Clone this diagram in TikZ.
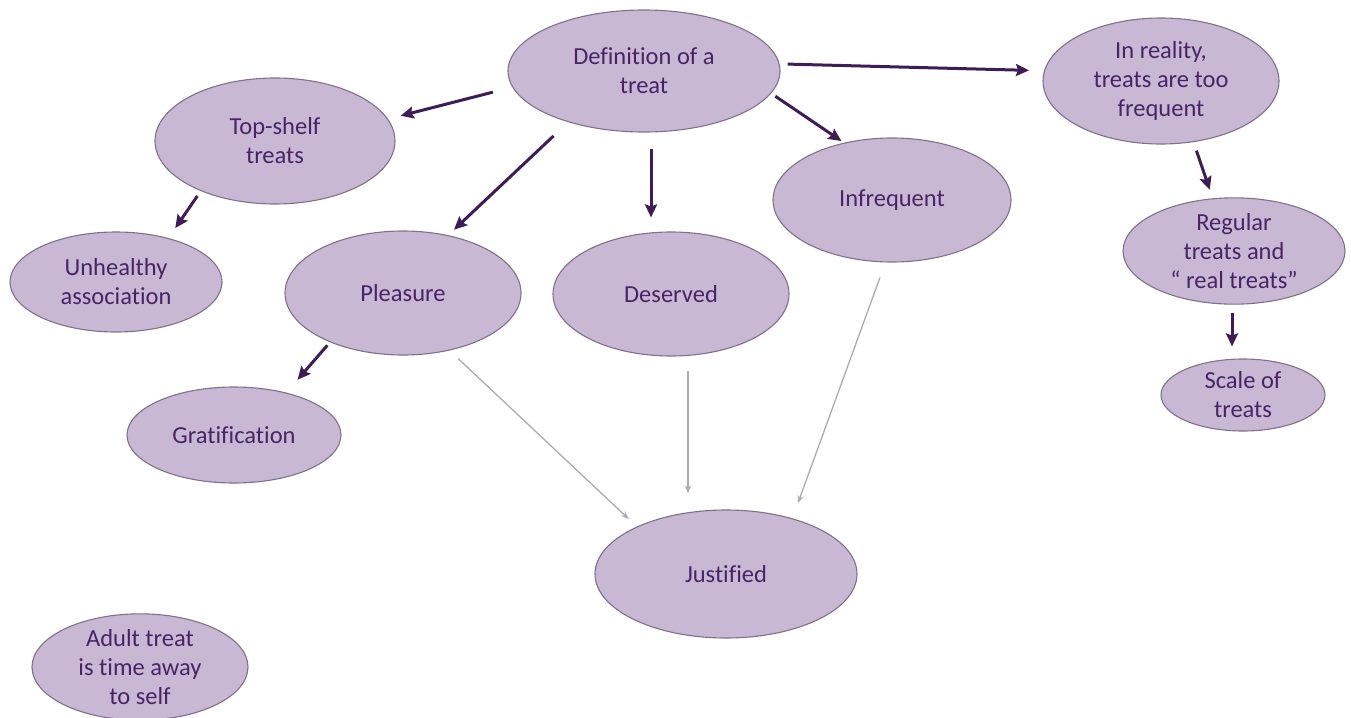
\documentclass[tikz,border=0pt]{standalone}
\usepackage{fontspec}
\setmainfont{Carlito}[Ligatures=NoCommon]
\usetikzlibrary{shapes.geometric,arrows.meta}
\definecolor{bubble}{RGB}{201,184,212}
\definecolor{rim}{RGB}{128,112,140}
\definecolor{ink}{RGB}{72,36,102}
\definecolor{darrow}{RGB}{62,28,88}
\definecolor{larrow}{RGB}{172,170,176}

\begin{document}
\begin{tikzpicture}[x=1pt,y=-1pt,
  bub/.style={ellipse, draw=rim, line width=1.1pt, fill=bubble, text=ink,
              inner sep=0pt, align=center, font=\fontsize{24.5}{29}\selectfont},
  dk/.style={draw=darrow, line width=3pt, -{Stealth[length=13pt,width=12pt,inset=2pt]}},
  lt/.style={draw=larrow, line width=1.3pt, -{Stealth[length=8pt,width=6pt]}}]

\useasboundingbox (0,0) rectangle (1351,717);

% concept bubbles
\node[bub, minimum width=272pt, minimum height=122pt] (def)  at (644,71)  {Definition of a\\treat};
\node[bub, minimum width=236pt, minimum height=126pt] (real) at (1161,81) {In reality,\\treats are too\\frequent};
\node[bub, minimum width=240pt, minimum height=126pt] (top)  at (275,141) {Top-shelf\\treats};
\node[bub, minimum width=212pt, minimum height=100pt] (unh)  at (116,282) {Unhealthy\\association};
\node[bub, minimum width=236pt, minimum height=124pt] (ple)  at (403,293) {Pleasure};
\node[bub, minimum width=236pt, minimum height=124pt] (des)  at (671,294) {Deserved};
\node[bub, minimum width=238pt, minimum height=124pt] (inf)  at (892,200) {Infrequent};
\node[bub, minimum width=222pt, minimum height=102pt] (reg)  at (1234,251) {Regular\\treats and\\“ real treats”};
\node[bub, minimum width=164pt, minimum height=72pt]  (sca)  at (1243,395) {Scale of\\treats};
\node[bub, minimum width=214pt, minimum height=96pt]  (gra)  at (234,435) {Gratification};
\node[bub, minimum width=262pt, minimum height=128pt] (jus)  at (726,574) {Justified};
\node[bub, minimum width=216pt, minimum height=100pt] (adu)  at (140,667) {Adult treat\\is time away\\to self};

% strong links
\draw[dk, shorten <=20pt, shorten >=13pt] (def.187) -- (top.11);
\draw[dk, shorten <=20pt, shorten >=8pt]  (def.214) -- (ple.52);
\draw[dk, shorten <=16pt, shorten >=14pt] ([xshift=7pt]def.south) -- ([xshift=-20pt]des.north);
\draw[dk, shorten <=5pt,  shorten >=3pt]  (def.-10) -- (inf.130);
\draw[dk, shorten <=8pt,  shorten >=15pt] (def.3) -- (real.175);
\draw[dk, shorten <=6pt,  shorten >=12pt] (top.214) -- (unh.40);
\draw[dk, shorten <=4pt,  shorten >=17pt] (ple.214) -- (gra.39);
\draw[dk, shorten <=9pt,  shorten >=9pt]  (real.-62) -- (reg.112);
\draw[dk, shorten <=8pt,  shorten >=12pt] ([xshift=-2pt]reg.south) -- ([xshift=-11pt]sca.north);

% light links into "Justified"
\draw[lt, shorten <=12pt, shorten >=11pt] (ple.-51) -- (jus.152);
\draw[lt, shorten <=14pt, shorten >=16pt] ([xshift=17pt]des.south) -- ([xshift=-38pt]jus.north);
\draw[lt, shorten <=16pt, shorten >=16pt] (inf.264) -- (jus.40);
\end{tikzpicture}
\end{document}
